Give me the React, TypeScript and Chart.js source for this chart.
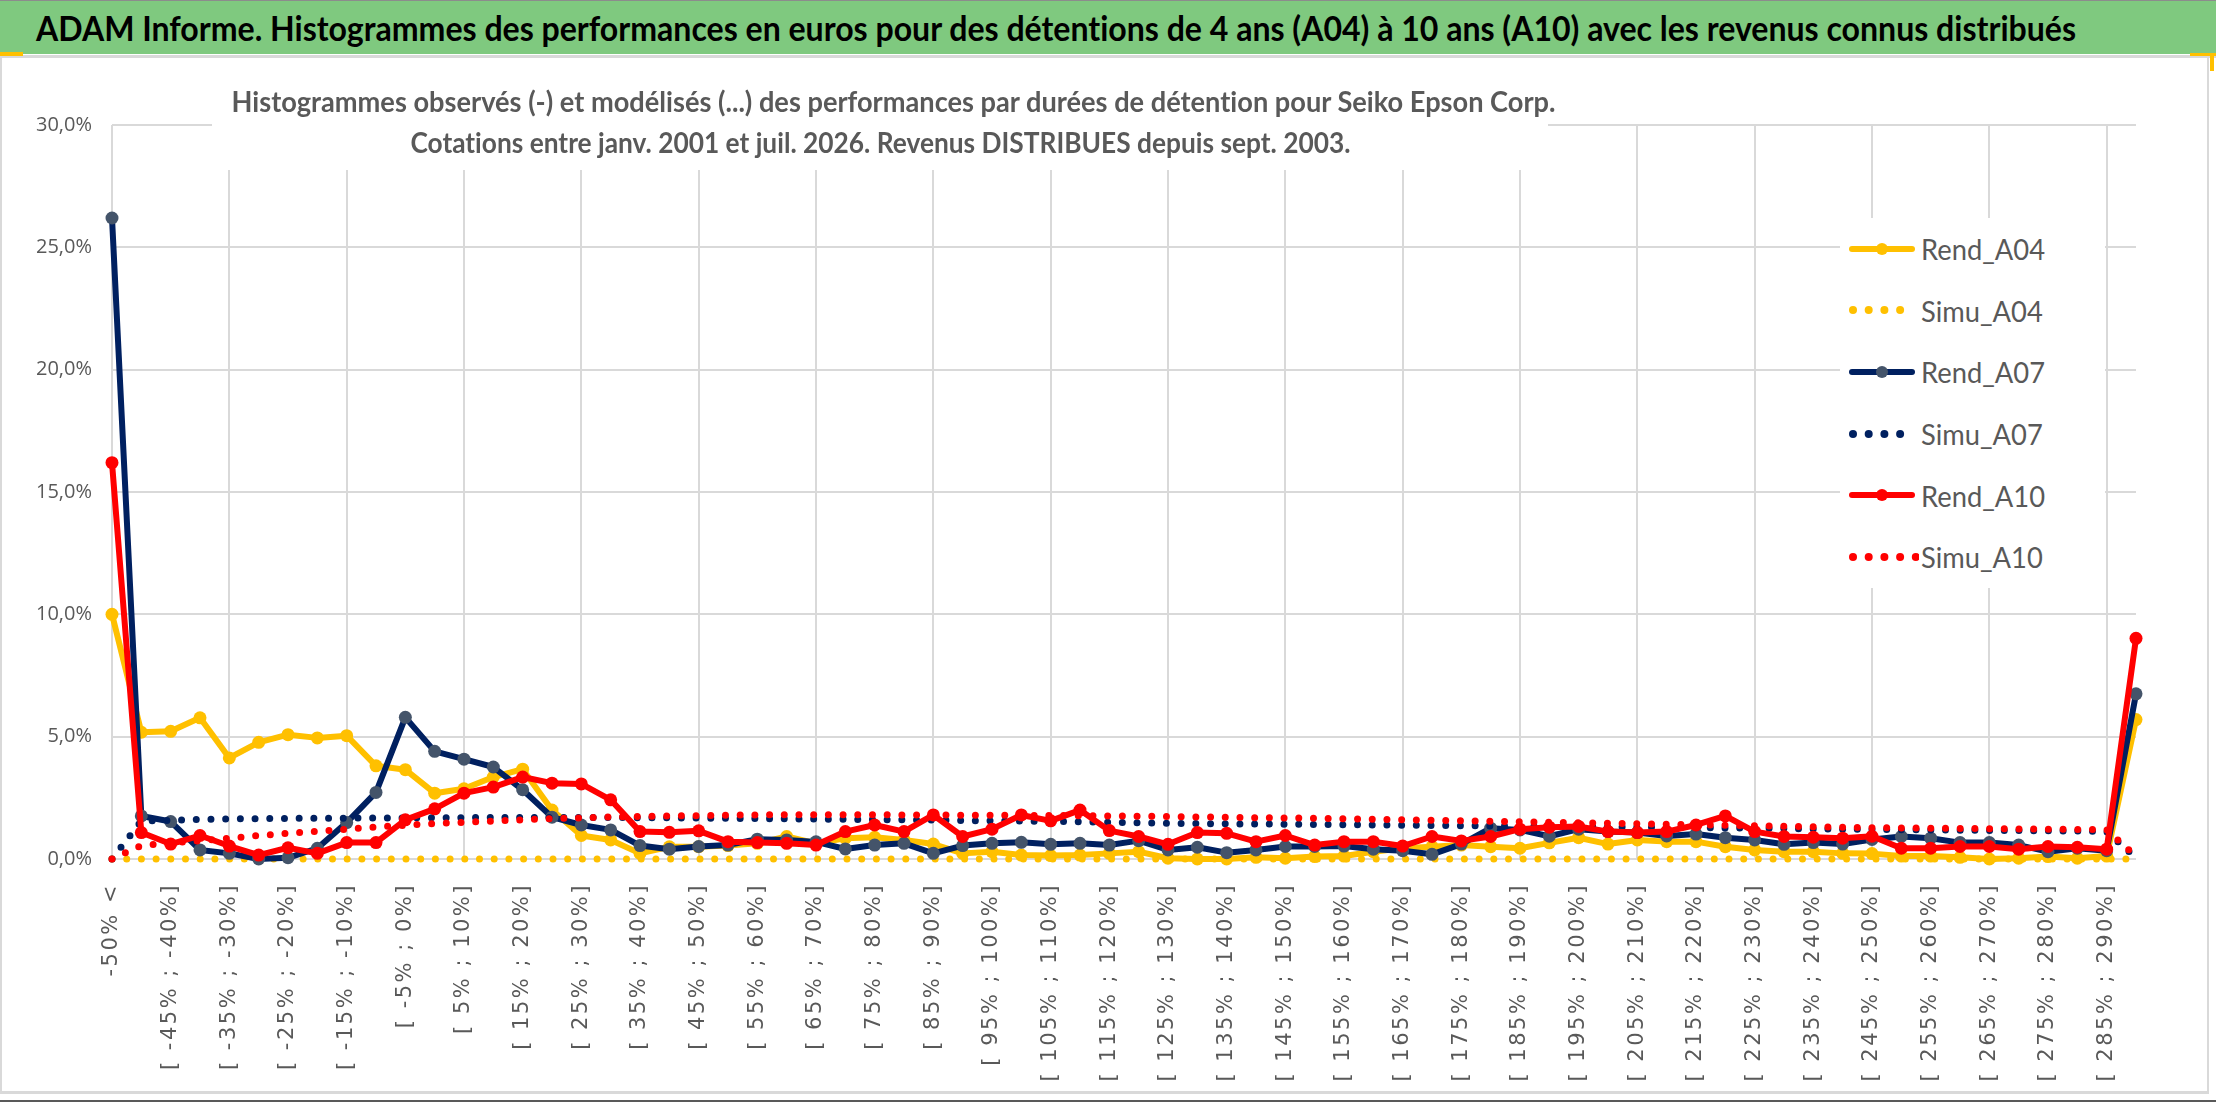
import React, { useEffect, useRef } from "react";
import { Chart, registerables } from "chart.js";

Chart.register(...registerables);

// categories (tranches de performance)
const categories = [
    "-50% <", "[ -50% ; -45%]", "[ -45% ; -40%]", "[ -40% ; -35%]", "[ -35% ; -30%]",
    "[ -30% ; -25%]", "[ -25% ; -20%]", "[ -20% ; -15%]", "[ -15% ; -10%]", "[ -10% ; -5%]",
    "[ -5% ; 0%]", "[ 0% ; 5%]", "[ 5% ; 10%]", "[ 10% ; 15%]", "[ 15% ; 20%]",
    "[ 20% ; 25%]", "[ 25% ; 30%]", "[ 30% ; 35%]", "[ 35% ; 40%]", "[ 40% ; 45%]",
    "[ 45% ; 50%]", "[ 50% ; 55%]", "[ 55% ; 60%]", "[ 60% ; 65%]", "[ 65% ; 70%]",
    "[ 70% ; 75%]", "[ 75% ; 80%]", "[ 80% ; 85%]", "[ 85% ; 90%]", "[ 90% ; 95%]",
    "[ 95% ; 100%]", "[ 100% ; 105%]", "[ 105% ; 110%]", "[ 110% ; 115%]", "[ 115% ; 120%]",
    "[ 120% ; 125%]", "[ 125% ; 130%]", "[ 130% ; 135%]", "[ 135% ; 140%]", "[ 140% ; 145%]",
    "[ 145% ; 150%]", "[ 150% ; 155%]", "[ 155% ; 160%]", "[ 160% ; 165%]", "[ 165% ; 170%]",
    "[ 170% ; 175%]", "[ 175% ; 180%]", "[ 180% ; 185%]", "[ 185% ; 190%]", "[ 190% ; 195%]",
    "[ 195% ; 200%]", "[ 200% ; 205%]", "[ 205% ; 210%]", "[ 210% ; 215%]", "[ 215% ; 220%]",
    "[ 220% ; 225%]", "[ 225% ; 230%]", "[ 230% ; 235%]", "[ 235% ; 240%]", "[ 240% ; 245%]",
    "[ 245% ; 250%]", "[ 250% ; 255%]", "[ 255% ; 260%]", "[ 260% ; 265%]", "[ 265% ; 270%]",
    "[ 270% ; 275%]", "[ 275% ; 280%]", "[ 280% ; 285%]", "[ 285% ; 290%]", "290% <",
];

// observed histograms (%)
const rendA04 = [
    10.0, 5.18, 5.22, 5.77, 4.13, 4.77, 5.08, 4.95, 5.04, 3.81,
    3.65, 2.69, 2.87, 3.35, 3.67, 2.0, 0.96, 0.78, 0.23, 0.5,
    0.5, 0.55, 0.64, 0.92, 0.64, 0.85, 0.89, 0.78, 0.61, 0.23,
    0.3, 0.16, 0.14, 0.16, 0.23, 0.3, 0.03, 0.0, 0.0, 0.07,
    0.03, 0.1, 0.12, 0.3, 0.44, 0.5, 0.57, 0.5, 0.44, 0.66,
    0.87, 0.61, 0.78, 0.71, 0.71, 0.5, 0.37, 0.3, 0.3, 0.23,
    0.22, 0.12, 0.12, 0.07, 0.0, 0.03, 0.1, 0.03, 0.12, 5.7,
];
const rendA07 = [
    26.2, 1.76, 1.53, 0.37, 0.23, 0.0, 0.05, 0.44, 1.49, 2.72,
    5.79, 4.4, 4.08, 3.76, 2.83, 1.71, 1.39, 1.19, 0.55, 0.4,
    0.51, 0.57, 0.81, 0.78, 0.7, 0.41, 0.57, 0.64, 0.23, 0.55,
    0.64, 0.68, 0.6, 0.64, 0.57, 0.75, 0.37, 0.48, 0.26, 0.37,
    0.51, 0.51, 0.53, 0.4, 0.34, 0.19, 0.61, 1.26, 1.19, 0.93,
    1.22, 1.12, 1.08, 0.94, 1.02, 0.87, 0.78, 0.6, 0.67, 0.61,
    0.8, 0.92, 0.85, 0.67, 0.67, 0.57, 0.3, 0.44, 0.34, 6.75,
];
const rendA10 = [
    16.2, 1.08, 0.61, 0.96, 0.53, 0.16, 0.46, 0.23, 0.67, 0.67,
    1.6, 2.05, 2.69, 2.94, 3.35, 3.1, 3.07, 2.42, 1.12, 1.09,
    1.15, 0.71, 0.67, 0.64, 0.57, 1.12, 1.39, 1.12, 1.8, 0.92,
    1.22, 1.8, 1.56, 2.0, 1.16, 0.92, 0.6, 1.08, 1.05, 0.71,
    0.96, 0.57, 0.71, 0.71, 0.53, 0.92, 0.74, 0.92, 1.22, 1.3,
    1.33, 1.12, 1.08, 1.12, 1.39, 1.76, 1.12, 0.92, 0.89, 0.85,
    0.93, 0.44, 0.44, 0.51, 0.51, 0.4, 0.51, 0.48, 0.4, 9.02,
];

// modelled histograms (%)
const simuA04 = [
    0, 0, 0, 0, 0, 0, 0, 0, 0, 0,
    0, 0, 0, 0, 0, 0, 0, 0, 0, 0,
    0, 0, 0, 0, 0, 0, 0, 0, 0, 0,
    0, 0, 0, 0, 0, 0, 0, 0, 0, 0,
    0, 0, 0, 0, 0, 0, 0, 0, 0, 0,
    0, 0, 0, 0, 0, 0, 0, 0, 0, 0,
    0, 0, 0, 0, 0, 0, 0, 0, 0, 0,
];
const simuA07 = [
    0.0, 1.55, 1.58, 1.62, 1.64, 1.65, 1.66, 1.67, 1.67, 1.68,
    1.68, 1.69, 1.69, 1.7, 1.7, 1.7, 1.7, 1.7, 1.69, 1.68,
    1.67, 1.66, 1.65, 1.64, 1.63, 1.62, 1.61, 1.6, 1.59, 1.57,
    1.56, 1.55, 1.54, 1.52, 1.5, 1.48, 1.46, 1.45, 1.44, 1.43,
    1.42, 1.41, 1.4, 1.39, 1.38, 1.37, 1.36, 1.35, 1.34, 1.33,
    1.32, 1.31, 1.3, 1.29, 1.28, 1.27, 1.26, 1.25, 1.23, 1.22,
    1.21, 1.2, 1.19, 1.18, 1.17, 1.16, 1.15, 1.14, 1.12, 0.05,
];
const simuA10 = [
    0.0, 0.55, 0.65, 0.75, 0.85, 0.96, 1.05, 1.13, 1.22, 1.31,
    1.38, 1.45, 1.5, 1.55, 1.6, 1.65, 1.68, 1.72, 1.74, 1.76,
    1.77, 1.79, 1.8, 1.81, 1.81, 1.81, 1.81, 1.8, 1.8, 1.79,
    1.79, 1.78, 1.78, 1.77, 1.76, 1.75, 1.74, 1.72, 1.71, 1.69,
    1.68, 1.66, 1.64, 1.62, 1.6, 1.58, 1.56, 1.54, 1.52, 1.5,
    1.48, 1.46, 1.44, 1.42, 1.4, 1.38, 1.36, 1.34, 1.32, 1.3,
    1.28, 1.27, 1.26, 1.25, 1.24, 1.23, 1.22, 1.21, 1.2, 0.1,
];

const yTicks = [0, 5, 10, 15, 20, 25, 30];

const textFont = 'Lato, "Open Sans", sans-serif';
const grey = "#595959";
const gridGrey = "#D9D9D9";

const series = [
    { label: "Rend_A04", data: rendA04, color: "#FFC000", marker: "#FFC000", dotted: false, dots: 0 },
    { label: "Simu_A04", data: simuA04, color: "#FFC000", marker: "", dotted: true, dots: 4 },
    { label: "Rend_A07", data: rendA07, color: "#002060", marker: "#44546A", dotted: false, dots: 0 },
    { label: "Simu_A07", data: simuA07, color: "#002060", marker: "", dotted: true, dots: 4 },
    { label: "Rend_A10", data: rendA10, color: "#FF0000", marker: "#FF0000", dotted: false, dots: 0 },
    { label: "Simu_A10", data: simuA10, color: "#FF0000", marker: "", dotted: true, dots: 5 },
];

// Excel text in the source is narrow: squeeze an element to a given width
function fitWidth(el: HTMLElement | null, target: number) {
    if (!el) return;
    el.style.transform = "none";
    const w = el.getBoundingClientRect().width;
    if (w > 0) el.style.transform = `scaleX(${target / w})`;
}

// x tick labels are drawn after the datasets (ticks.z = 1) with extra letter spacing
const xLabelSpacing = {
    id: "xLabelSpacing",
    afterDatasetsDraw(chart: any) {
        chart.ctx.letterSpacing = "2.5px";
    },
    afterDraw(chart: any) {
        chart.ctx.letterSpacing = "0px";
    },
};

function LegendSample({ s }: { s: (typeof series)[number] }) {
    if (s.dotted) {
        return (
            <svg width={70} height={20} style={{ display: "block" }}>
                {Array.from({ length: s.dots }).map((_, i) => (
                    <circle key={i} cx={4 + i * 15.7} cy={10} r={4} fill={s.color} />
                ))}
            </svg>
        );
    }
    return (
        <svg width={70} height={20} style={{ display: "block" }}>
            <line x1={3} y1={10} x2={63} y2={10} stroke={s.color} strokeWidth={6} strokeLinecap="round" />
            <circle cx={33} cy={10} r={6} fill={s.marker} />
        </svg>
    );
}

export default function App() {
    const canvasRef = useRef<HTMLCanvasElement | null>(null);
    const chartRef = useRef<Chart | null>(null);
    const titleRef = useRef<HTMLSpanElement | null>(null);
    const sub1Ref = useRef<HTMLSpanElement | null>(null);
    const sub2Ref = useRef<HTMLSpanElement | null>(null);
    const legendRefs = useRef<(HTMLSpanElement | null)[]>([]);

    useEffect(() => {
        const fitAll = () => {
            fitWidth(titleRef.current, 2040);
            fitWidth(sub1Ref.current, 1324);
            fitWidth(sub2Ref.current, 940);
            const first = legendRefs.current[0];
            if (first) {
                first.style.transform = "none";
                const k = 124 / first.getBoundingClientRect().width;
                legendRefs.current.forEach((el) => {
                    if (el) el.style.transform = `scaleX(${k})`;
                });
            }
        };
        fitAll();
        if (document.fonts && document.fonts.ready) document.fonts.ready.then(fitAll);
    }, []);

    useEffect(() => {
        if (!canvasRef.current) return;
        const ctx = canvasRef.current.getContext("2d");
        if (!ctx) return;
        if (chartRef.current) chartRef.current.destroy();

        chartRef.current = new Chart(ctx, {
            type: "line",
            data: {
                labels: categories,
                datasets: series.map((s, i) => ({
                    label: s.label,
                    data: s.data,
                    borderColor: s.color,
                    backgroundColor: s.color,
                    borderWidth: s.dotted ? 7 : 6,
                    borderDash: s.dotted ? [0, 14.7] : [],
                    borderCapStyle: "round",
                    borderJoinStyle: "round",
                    pointRadius: s.dotted ? 0 : 6.5,
                    pointBackgroundColor: s.marker || s.color,
                    pointBorderWidth: 0,
                    tension: 0,
                    fill: false,
                    clip: false,
                    order: series.length - i,
                })),
            },
            options: {
                animation: false,
                responsive: true,
                maintainAspectRatio: false,
                layout: { padding: { left: 0, right: 72, top: 67, bottom: 0 } },
                plugins: {
                    legend: { display: false },
                    title: { display: false },
                    tooltip: { enabled: false },
                },
                scales: {
                    x: {
                        offset: false,
                        border: { display: false },
                        grid: {
                            color: (c: any) => (c.index % 4 === 0 ? gridGrey : "rgba(0,0,0,0)"),
                            lineWidth: 2,
                            drawTicks: false,
                        },
                        ticks: {
                            z: 1,
                            autoSkip: false,
                            minRotation: 90,
                            maxRotation: 90,
                            padding: 24,
                            color: grey,
                            font: { family: "DejaVu Sans", size: 21 },
                            callback: function (this: any, value: any, index: number) {
                                return index % 2 === 0 ? this.getLabelForValue(value) : "";
                            },
                        },
                        afterFit: (scale: any) => {
                            scale.height = 233;
                        },
                    },
                    y: {
                        min: yTicks[0],
                        max: yTicks[yTicks.length - 1],
                        border: { display: false },
                        grid: { color: gridGrey, lineWidth: 2, drawTicks: false },
                        ticks: {
                            stepSize: yTicks[1] - yTicks[0],
                            padding: 20,
                            color: grey,
                            font: { family: "Open Sans", size: 20 },
                            callback: (v: any) => Number(v).toFixed(1).replace(".", ",") + "%",
                        },
                        afterFit: (scale: any) => {
                            scale.width = 112;
                        },
                    },
                },
            },
            plugins: [xLabelSpacing],
        });

        return () => {
            chartRef.current?.destroy();
            chartRef.current = null;
        };
    }, []);

    return (
        <div style={{ position: "absolute", left: 0, top: 0, width: 2216, height: 1102, background: "#fff", overflow: "hidden", fontVariantLigatures: "none" }}>
            {/* Excel header band */}
            <div style={{ position: "absolute", left: 0, top: 0, width: 2216, height: 1, background: "#8c8c8c" }} />
            <div style={{ position: "absolute", left: 0, top: 1, width: 2216, height: 53, background: "#7FC97F", display: "flex", alignItems: "center" }}>
                <span
                    ref={titleRef}
                    style={{ display: "inline-block", marginLeft: 36, transformOrigin: "0 50%", whiteSpace: "nowrap", fontFamily: textFont, fontWeight: "bold", fontSize: 35, lineHeight: "35px", color: "#000" }}
                >
                    ADAM Informe. Histogrammes des performances en euros pour des détentions de 4 ans (A04) à 10 ans (A10) avec les revenus connus distribués
                </span>
            </div>
            <div style={{ position: "absolute", left: 0, top: 55, width: 2216, height: 3, background: gridGrey }} />
            <div style={{ position: "absolute", left: 0, top: 52, width: 23, height: 4, background: "#FFC000" }} />
            <div style={{ position: "absolute", left: 2190, top: 53, width: 26, height: 3, background: "#FFC000" }} />
            <div style={{ position: "absolute", left: 2210, top: 53, width: 4, height: 18, background: "#FFC000" }} />

            {/* chart */}
            <div style={{ position: "absolute", left: 0, top: 58, width: 2208, height: 1034 }}>
                <canvas ref={canvasRef}></canvas>
            </div>

            {/* chart frame */}
            <div style={{ position: "absolute", left: 0, top: 58, width: 2, height: 1036, background: gridGrey }} />
            <div style={{ position: "absolute", left: 2207, top: 58, width: 2, height: 1036, background: gridGrey }} />
            <div style={{ position: "absolute", left: 0, top: 1091, width: 2209, height: 3, background: gridGrey }} />
            <div style={{ position: "absolute", left: 0, top: 1100, width: 2216, height: 2, background: "#595959" }} />

            {/* subtitle */}
            <div style={{ position: "absolute", left: 212, top: 81, width: 1336, height: 89, background: "#fff", textAlign: "center", fontFamily: textFont, fontWeight: "bold", fontSize: 28, lineHeight: "41px", color: grey, whiteSpace: "nowrap" }}>
                <div>
                    <span ref={sub1Ref} style={{ display: "inline-block", transformOrigin: "50% 50%" }}>
                        Histogrammes observés (-) et modélisés (...) des performances par durées de détention pour Seiko Epson Corp.
                    </span>
                </div>
                <div>
                    <span ref={sub2Ref} style={{ display: "inline-block", transformOrigin: "50% 50%" }}>
                        Cotations entre janv. 2001 et juil. 2026. Revenus DISTRIBUES depuis sept. 2003.
                    </span>
                </div>
            </div>

            {/* legend */}
            <div style={{ position: "absolute", left: 1840, top: 218, width: 265, height: 370, background: "#fff" }}>
                {series.map((s, i) => (
                    <div key={s.label} style={{ display: "flex", alignItems: "center", height: 61.6 }}>
                        <div style={{ width: 81, paddingLeft: 9, boxSizing: "border-box" }}>
                            <LegendSample s={s} />
                        </div>
                        <span
                            ref={(el) => {
                                legendRefs.current[i] = el;
                            }}
                            style={{ display: "inline-block", transformOrigin: "0 50%", fontFamily: textFont, fontSize: 29, color: grey, whiteSpace: "nowrap" }}
                        >
                            {s.label}
                        </span>
                    </div>
                ))}
            </div>
        </div>
    );
}
